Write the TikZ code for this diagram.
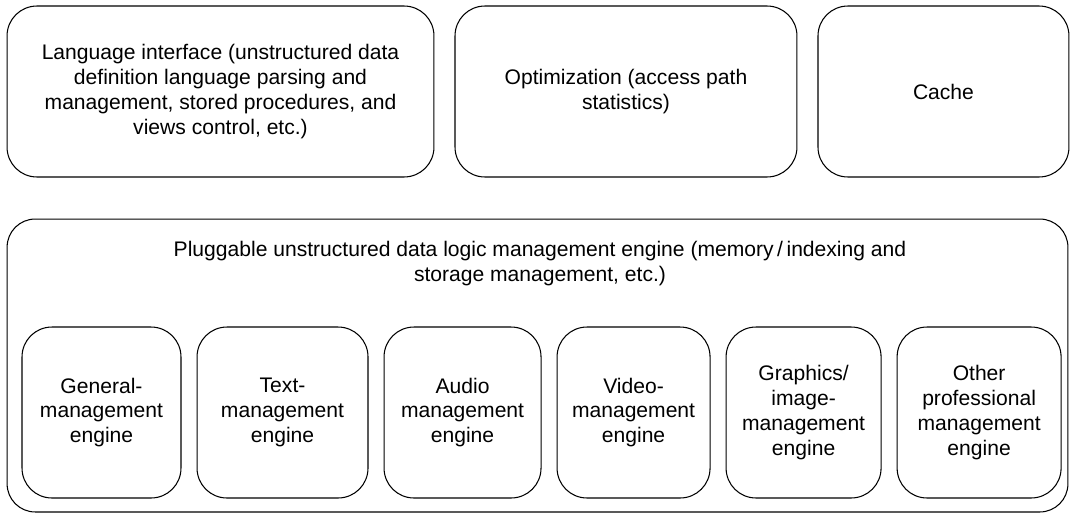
\documentclass[tikz,border=0pt]{standalone}
\usepackage{fontspec}
\setmainfont{Liberation Sans}
\usetikzlibrary{positioning}

\begin{document}
\begin{tikzpicture}[x=0.02cm, y=-0.02cm, node distance=0.3cm,
    blk/.style={draw, line width=0.6pt, rounded corners=17pt, align=center,
        font=\fontsize{12}{14.2}\selectfont, minimum height=3.42cm},
    eng/.style={blk, rounded corners=17pt, minimum height=3.42cm},
    headtxt/.style={align=center, font=\fontsize{12}{14.2}\selectfont}]
  \useasboundingbox (0,0) rectangle (1070,514);
  % upper layer
  \node[blk, minimum width=8.54cm] (lang) at (220.5,91.5)
    {Language interface (unstructured data\\definition language parsing and\\
     management, stored procedures, and\\views control, etc.)};
  \node[blk, minimum width=6.84cm, right=0.4cm of lang] (optim)
    {Optimization (access path\\statistics)};
  \node[blk, minimum width=5.02cm, right=0.4cm of optim] (cache) {Cache};
  % pluggable engine layer
  \node[blk, rounded corners=16pt, minimum width=21.22cm, minimum height=5.86cm]
    (plug) at (537.5,365.5) {};
  \node[headtxt] (plugtitle) at (540,264)
    {Pluggable unstructured data logic management engine (memory\,/\,indexing and\\
     storage management, etc.)};
  \node[eng, minimum width=3.18cm] (general) at (101.5,412.5)
    {General-\\management\\engine};
  \node[eng, minimum width=3.42cm, right=of general] (text)
    {Text-\\management\\engine};
  \node[eng, minimum width=3.14cm, right=of text] (audio)
    {Audio\\management\\engine};
  \node[eng, minimum width=3.06cm, right=of audio] (video)
    {Video-\\management\\engine};
  \node[eng, minimum width=3.10cm, right=of video] (graphics)
    {Graphics/\\image-\\management\\engine};
  \node[eng, minimum width=3.28cm, right=of graphics] (other)
    {Other\\professional\\management\\engine};
\end{tikzpicture}
\end{document}
